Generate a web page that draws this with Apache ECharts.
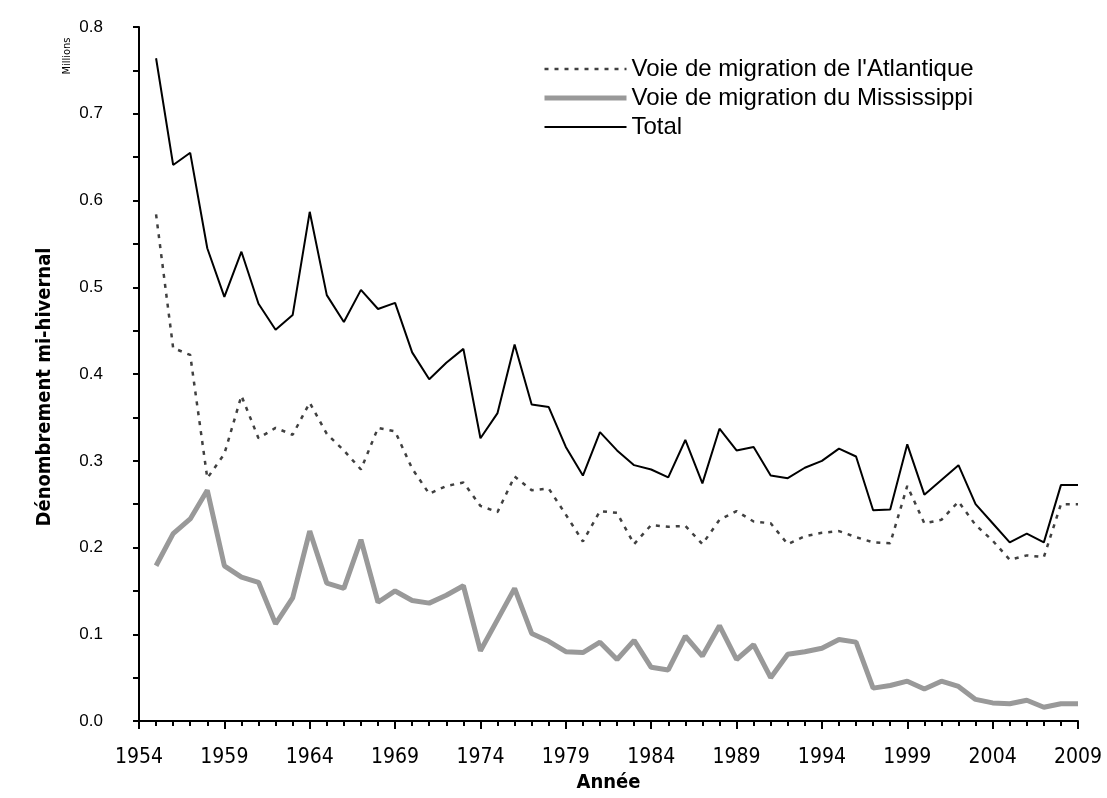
<!DOCTYPE html>
<html>
<head>
<meta charset="utf-8">
<script src="https://cdn.jsdelivr.net/npm/echarts@6/dist/echarts.min.js"></script>
<style>
  html, body { margin: 0; padding: 0; background: #fff; }
  #chart { width: 1107px; height: 798px; }
</style>
</head>
<body>
<div id="chart"></div>
<script>
// années 1955-2009
var years = [];
for (var y = 1955; y <= 2009; y++) years.push(y);

var atlantique = [0.584, 0.430, 0.422, 0.280, 0.308, 0.375, 0.326, 0.338, 0.330, 0.367,
  0.331, 0.312, 0.290, 0.338, 0.334, 0.291, 0.262, 0.271, 0.275, 0.248,
  0.241, 0.282, 0.266, 0.268, 0.238, 0.207, 0.242, 0.240, 0.204, 0.226,
  0.224, 0.225, 0.204, 0.232, 0.242, 0.230, 0.228, 0.204, 0.213, 0.217,
  0.219, 0.212, 0.206, 0.205, 0.271, 0.228, 0.232, 0.253, 0.226, 0.208,
  0.186, 0.191, 0.189, 0.250, 0.250];

var mississippi = [0.179, 0.216, 0.233, 0.266, 0.179, 0.166, 0.160, 0.112, 0.142, 0.219,
  0.159, 0.153, 0.209, 0.137, 0.150, 0.139, 0.136, 0.145, 0.156, 0.081,
  0.117, 0.153, 0.101, 0.092, 0.080, 0.079, 0.091, 0.071, 0.093, 0.062,
  0.059, 0.098, 0.075, 0.110, 0.071, 0.088, 0.050, 0.077, 0.080, 0.084,
  0.094, 0.091, 0.038, 0.041, 0.046, 0.037, 0.046, 0.040, 0.025, 0.021,
  0.020, 0.024, 0.016, 0.020, 0.020];

var total = [0.764, 0.641, 0.655, 0.545, 0.489, 0.541, 0.481, 0.451, 0.468, 0.587,
  0.491, 0.460, 0.497, 0.475, 0.482, 0.425, 0.394, 0.413, 0.429, 0.326,
  0.355, 0.434, 0.365, 0.362, 0.316, 0.283, 0.333, 0.312, 0.295, 0.290,
  0.281, 0.324, 0.274, 0.337, 0.312, 0.316, 0.283, 0.280, 0.292, 0.300,
  0.314, 0.305, 0.243, 0.244, 0.319, 0.261, 0.278, 0.295, 0.250, 0.228,
  0.206, 0.216, 0.206, 0.272, 0.272];

var names = ["Voie de migration de l'Atlantique", "Voie de migration du Mississippi", "Total"];

function pairs(vals) {
  var out = [];
  for (var i = 0; i < years.length; i++) out.push([years[i], vals[i]]);
  return out;
}

var chart = echarts.init(document.getElementById('chart'), null, {renderer: 'canvas'});

var narrow = '"DejaVu Sans Condensed", "Liberation Sans Narrow", sans-serif';

option = {
  animation: false,
  backgroundColor: '#fff',
  grid: { left: 139, right: 29, top: 27, bottom: 67 },
  legend: {
    orient: 'vertical',
    left: 537,
    top: 52,
    itemWidth: 82,
    itemHeight: 12,
    itemGap: 5,
    itemStyle: { opacity: 0 },
    lineStyle: { width: 'inherit' },
    textStyle: { fontFamily: 'Liberation Sans', fontSize: 24, color: '#000' },
    data: names
  },
  xAxis: {
    type: 'value',
    min: 1954, max: 2009, interval: 5,
    name: 'Année',
    nameLocation: 'middle',
    nameGap: 46,
    nameTextStyle: { fontFamily: narrow, fontWeight: 'bold', fontSize: 20, color: '#000' },
    axisLine: { lineStyle: { color: '#000', width: 2 } },
    axisTick: { show: true, inside: false, length: 8, lineStyle: { color: '#000', width: 2 } },
    minorTick: { show: true, splitNumber: 5, length: 5, lineStyle: { color: '#000', width: 2 } },
    splitLine: { show: false },
    axisLabel: {
      margin: 26,
      fontFamily: narrow, fontSize: 21, color: '#000',
      formatter: function (v) { return String(v); }
    }
  },
  yAxis: {
    type: 'value',
    min: 0, max: 0.8, interval: 0.1,
    axisLine: { show: true, lineStyle: { color: '#000', width: 2 } },
    axisTick: { show: true, inside: false, length: 6, lineStyle: { color: '#000', width: 2 } },
    minorTick: { show: true, splitNumber: 2, length: 6, lineStyle: { color: '#000', width: 2 } },
    splitLine: { show: false },
    axisLabel: {
      margin: 36,
      fontFamily: 'Liberation Sans', fontSize: 17, color: '#000',
      formatter: function (v) { return v.toFixed(1); }
    }
  },
  graphic: [
    {
      type: 'text',
      x: 67, y: 56,
      rotation: Math.PI / 2,
      style: { text: 'Millions', font: '11px "DejaVu Sans Condensed", sans-serif', fill: '#000',
        align: 'center', verticalAlign: 'middle' }
    },
    {
      type: 'text',
      x: 45, y: 387,
      rotation: Math.PI / 2,
      style: { text: 'Dénombrement mi-hivernal', font: 'bold 20px "DejaVu Sans Condensed", sans-serif', fill: '#000',
        align: 'center', verticalAlign: 'middle' }
    }
  ],
  series: [
    {
      name: names[0], type: 'line', data: pairs(atlantique),
      showSymbol: false, symbol: 'none',
      lineStyle: { color: '#404040', width: 2.5, type: [4, 6] },
      itemStyle: { color: '#404040' }
    },
    {
      name: names[1], type: 'line', data: pairs(mississippi),
      showSymbol: false, symbol: 'none',
      lineStyle: { color: '#999999', width: 5 },
      itemStyle: { color: '#999999' }
    },
    {
      name: names[2], type: 'line', data: pairs(total),
      showSymbol: false, symbol: 'none',
      lineStyle: { color: '#000', width: 2 },
      itemStyle: { color: '#000' }
    }
  ]
};
chart.setOption(option);
</script>
</body>
</html>
